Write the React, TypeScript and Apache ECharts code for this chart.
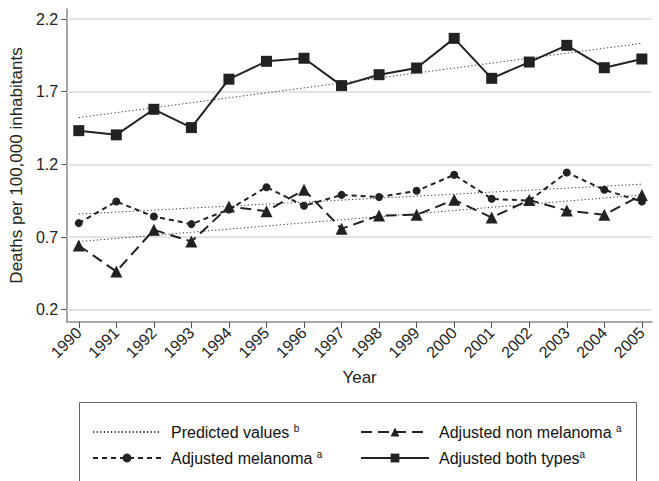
import React, { useEffect, useRef } from "react";
import * as echarts from "echarts";

const years = [1990, 1991, 1992, 1993, 1994, 1995, 1996, 1997, 1998, 1999, 2000, 2001, 2002, 2003, 2004, 2005];
const bothTypes = [1.432, 1.403, 1.579, 1.453, 1.786, 1.909, 1.93, 1.742, 1.817, 1.863, 2.067, 1.792, 1.904, 2.019, 1.865, 1.925];
const melanoma = [0.796, 0.944, 0.841, 0.789, 0.89, 1.043, 0.915, 0.99, 0.975, 1.018, 1.128, 0.963, 0.95, 1.144, 1.025, 0.944];
const nonMelanoma = [0.642, 0.463, 0.75, 0.669, 0.91, 0.878, 1.025, 0.757, 0.848, 0.853, 0.956, 0.834, 0.955, 0.882, 0.853, 0.99];
const trendYears = [1990, 2005];
const trendBoth = [1.522, 2.033];
const trendMelanoma = [0.858, 1.064];
const trendNonMelanoma = [0.669, 0.99];
const yTicks = [0.2, 0.7, 1.2, 1.7, 2.2];

const FONT = '"Liberation Sans", Arial, Helvetica, sans-serif';
const INK = "#222222";

const pairs = (xs: number[], ys: number[]) => xs.map((x, i) => [x, ys[i]]);

const supMap: Record<string, string> = {
  "Predicted values": " {sup|b}",
  "Adjusted non melanoma": " {sup|a}",
  "Adjusted melanoma": " {sup|a}",
  "Adjusted both types": "{sup|a}",
};

export default function App() {
  const ref = useRef<HTMLDivElement>(null);
  useEffect(() => {
    if (!ref.current) return;
    const chart = echarts.init(ref.current, undefined, { renderer: "svg" });
    const trendStyle = { color: "#333", width: 1, type: [1.2, 2.4] as any };
    const legendText = {
      fontFamily: FONT,
      fontSize: 16,
      color: "#111",
      lineHeight: 18,
      padding: [0, 0, 0, 5],
      rich: {
        sup: { fontFamily: FONT, fontSize: 10, color: "#111", verticalAlign: "top", lineHeight: 10 },
      },
    };
    chart.setOption({
      animation: false,
      textStyle: { fontFamily: FONT },
      grid: { left: 64, right: 7, top: 9, bottom: 159 },
      xAxis: {
        type: "value",
        min: 1989.69,
        max: 2005.27,
        name: "Year",
        nameLocation: "middle",
        nameGap: 47,
        nameTextStyle: { fontFamily: FONT, fontSize: 17, color: INK },
        axisLine: { onZero: false, lineStyle: { color: "#8a8a8a", width: 1.5 } },
        axisTick: { customValues: years, length: 6, lineStyle: { color: "#555", width: 1 } },
        axisLabel: {
          customValues: years,
          rotate: 45,
          fontSize: 16,
          margin: 8,
          color: INK,
          fontFamily: FONT,
          formatter: (v: number) => String(Math.round(v)),
        },
        splitLine: { show: false },
      },
      yAxis: {
        type: "value",
        min: 0.1155,
        max: 2.269,
        name: "Deaths per 100,000 inhabitants",
        nameLocation: "middle",
        nameGap: 21,
        nameTextStyle: { fontFamily: FONT, fontSize: 17, color: INK },
        axisLine: { show: true, lineStyle: { color: "#8a8a8a", width: 1.5 } },
        axisTick: { show: true, customValues: yTicks, length: 6, lineStyle: { color: "#555", width: 1 } },
        axisLabel: {
          customValues: yTicks,
          fontSize: 16,
          margin: 9,
          color: INK,
          fontFamily: FONT,
          formatter: (v: number) => v.toFixed(1),
        },
        splitLine: { show: false },
      },
      legend: [
        {
          orient: "vertical",
          left: 87,
          top: 418,
          itemWidth: 68,
          itemHeight: 11,
          itemGap: 8,
          data: [
            { name: "Predicted values", itemStyle: { opacity: 0 } },
            "Adjusted melanoma",
          ],
          formatter: (name: string) => name + supMap[name],
          textStyle: legendText,
        },
        {
          orient: "vertical",
          left: 355,
          top: 418,
          itemWidth: 68,
          itemHeight: 11,
          itemGap: 8,
          data: ["Adjusted non melanoma", "Adjusted both types"],
          formatter: (name: string) => name + supMap[name],
          textStyle: legendText,
        },
      ],
      graphic: [
        {
          type: "rect",
          shape: { x: 79.5, y: 402.5, width: 557, height: 120 },
          style: { fill: "none", stroke: "#666", lineWidth: 1 },
          silent: true,
        },
      ],
      series: [
        {
          name: "_grid",
          type: "line",
          data: [],
          z: 1,
          markLine: {
            silent: true,
            symbol: "none",
            z: 1,
            label: { show: false },
            lineStyle: { color: "#e3e3e3", width: 2, type: "solid" },
            data: yTicks.map((v) => ({ yAxis: v })),
          },
        },
        {
          name: "Predicted values",
          type: "line",
          z: 3,
          symbol: "none",
          lineStyle: trendStyle,
          itemStyle: { color: "#333" },
          data: pairs(trendYears, trendBoth),
        },
        {
          name: "Predicted values",
          type: "line",
          z: 3,
          symbol: "none",
          lineStyle: trendStyle,
          itemStyle: { color: "#333" },
          data: pairs(trendYears, trendMelanoma),
        },
        {
          name: "Predicted values",
          type: "line",
          z: 3,
          symbol: "none",
          lineStyle: trendStyle,
          itemStyle: { color: "#333" },
          data: pairs(trendYears, trendNonMelanoma),
        },
        {
          name: "Adjusted melanoma",
          type: "line",
          z: 4,
          symbol: "circle",
          symbolSize: 8,
          lineStyle: { color: INK, width: 2, type: [5, 4] },
          itemStyle: { color: INK },
          data: pairs(years, melanoma),
        },
        {
          name: "Adjusted non melanoma",
          type: "line",
          z: 4,
          symbol: "triangle",
          symbolSize: 12,
          lineStyle: { color: INK, width: 2, type: [11, 6] },
          itemStyle: { color: INK },
          data: pairs(years, nonMelanoma),
        },
        {
          name: "Adjusted both types",
          type: "line",
          z: 5,
          symbol: "rect",
          symbolSize: 11,
          lineStyle: { color: INK, width: 2, type: "solid" },
          itemStyle: { color: INK },
          data: pairs(years, bothTypes),
        },
      ],
    });
    return () => chart.dispose();
  }, []);
  return (
    <div
      ref={ref}
      style={{ position: "fixed", left: 0, top: 0, width: 659, height: 481, background: "#fff" }}
    />
  );
}
